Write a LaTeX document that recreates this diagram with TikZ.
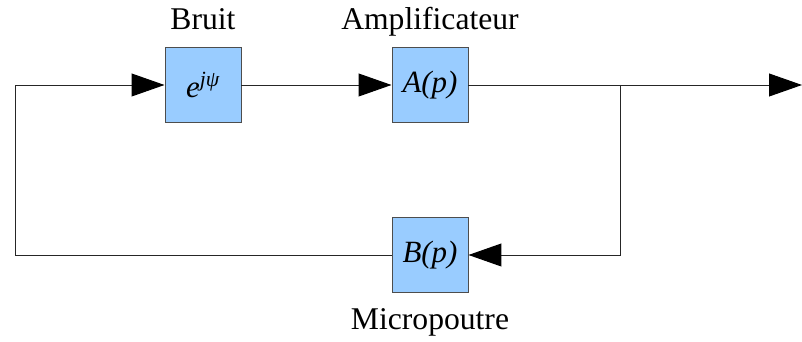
\documentclass[tikz,border=0pt]{standalone}
\usepackage{fontspec}
\setmainfont{Liberation Serif}
\usetikzlibrary{positioning,arrows.meta}
\definecolor{boxblue}{HTML}{99CCFF}
\definecolor{boxline}{HTML}{4D4D4D}
\tikzset{
  bloc/.style={draw=boxline, fill=boxblue, line width=0.7pt, minimum width=1.9cm,
    minimum height=1.875cm, inner sep=0pt, font=\fontsize{22}{26}\selectfont\itshape},
  lbl/.style={font=\fontsize{22.5}{27}\selectfont},
  fil/.style={line width=0.7pt, draw=black!85},
  fleche/.style={-{Triangle[length=0.82cm,width=0.57cm,black]}}
}

\begin{document}
\begin{tikzpicture}
  \useasboundingbox (0,0) rectangle (20.05,8.55);
  % blocs
  \node[bloc] (bruit) at (5.075,6.425) {e\textsuperscript{jψ}};
  \node[bloc] (ampli) at (10.75,6.425) {A(p)};
  \node[bloc] (micro) at (10.75,2.175) {B(p)};
  % titres
  \node[lbl, above=0.45cm of bruit.north, anchor=base] (tbruit) {Bruit};
  \node[lbl, above=0.45cm of ampli.north, anchor=base] (tampli) {Amplificateur};
  \node[lbl, below=0.925cm of micro.south, anchor=base] (tmicro) {Micropoutre};
  % points de la boucle
  \coordinate (sortie) at (20.05,6.425);
  \coordinate (noeud) at (15.5,6.425);
  \coordinate (gauche) at (0.375,2.175);
  % liaisons
  \draw[fil,fleche] (micro.west) -- (gauche) |- (bruit.west);
  \draw[fil,fleche] (bruit.east) -- (ampli.west);
  \draw[fil,fleche] (ampli.east) -- (sortie);
  \draw[fil,fleche] (noeud) |- (micro.east);
\end{tikzpicture}
\end{document}
